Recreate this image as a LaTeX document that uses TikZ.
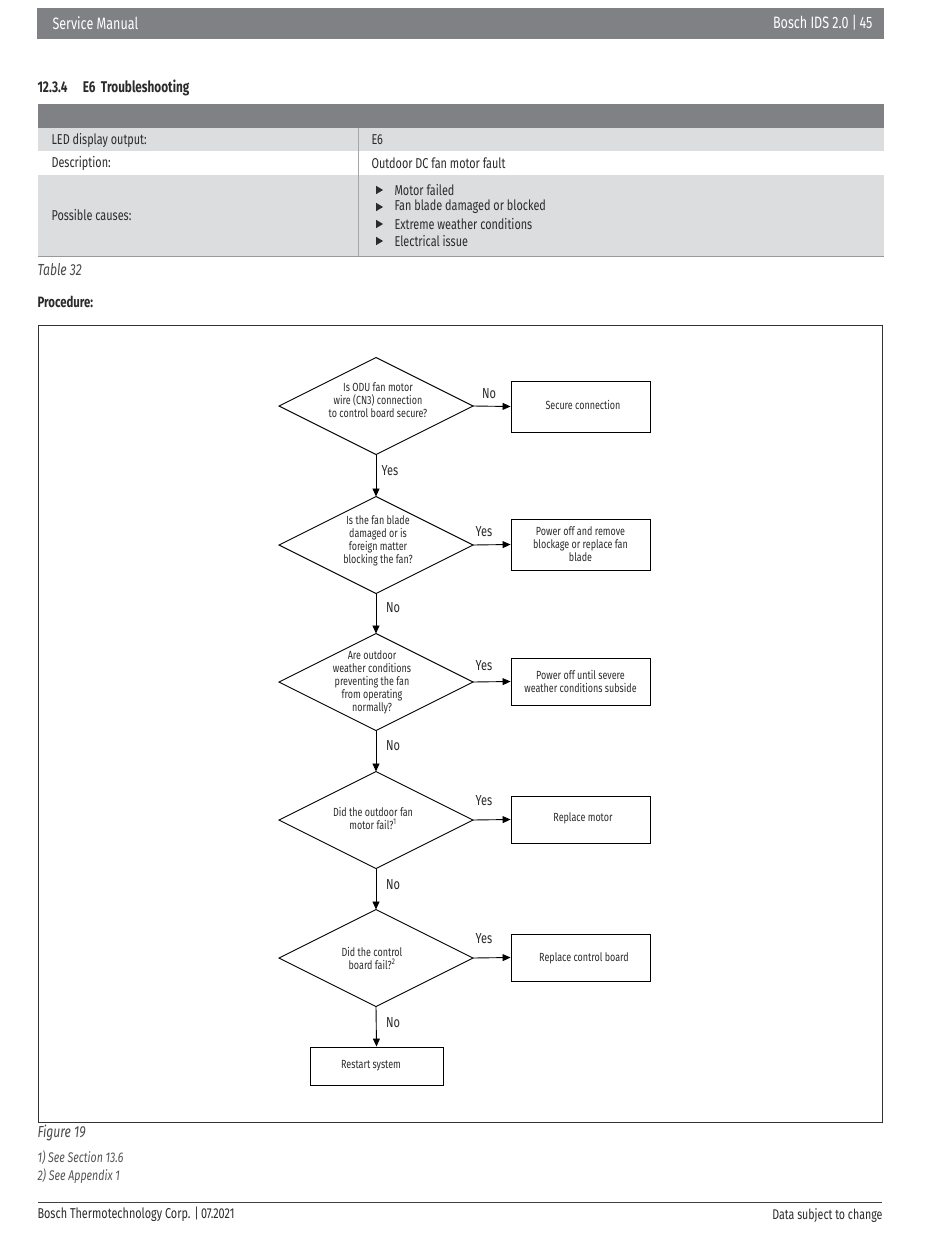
\documentclass[tikz,border=0pt]{standalone}
\usepackage{fontspec}
\setmainfont[FakeStretch=0.76]{Fira Sans}
\usetikzlibrary{arrows.meta}
\definecolor{bargray}{HTML}{808184}
\definecolor{rowgray}{HTML}{DCDDDF}
\definecolor{txt}{HTML}{2B2B2B}
\tikzset{
  fc/.style={font=\fontsize{11.8}{13}\selectfont, text=txt, align=center},
  dia/.style={draw=black, line width=0.9pt, fill=white},
  pbox/.style={draw=black, line width=0.9pt, minimum width=139pt, fc},
  lab/.style={font=\fontsize{14.5}{15}\selectfont, text=txt},
  arr/.style={line width=0.9pt, -{Triangle[length=8pt,width=7pt]}},
  body/.style={font=\fontsize{14.3}{15}\selectfont, text=txt, anchor=west},
  ital/.style={anchor=west, font=\itshape\fontsize{16}{17}\selectfont, text=txt!85},
  foot/.style={anchor=west, font=\itshape\fontsize{14}{15}\selectfont, text=txt!80},
}
\begin{document}
\begin{tikzpicture}[x=1pt,y=-1pt]
\useasboundingbox[fill=white] (0,0) rectangle (950,1241);
% header
\fill[bargray] (37,8) rectangle (884,39);
\node[anchor=west, text=white, font=\fontsize{16.5}{17}\selectfont] (hl) at (49,23) {Service Manual};
\node[anchor=east, text=white, font=\fontsize{16.5}{17}\selectfont] (hr) at (876,23) {Bosch IDS 2.0 |\,45};
\node[anchor=west, font=\bfseries\fontsize{15.5}{16}\selectfont, text=txt] (title) at (34,88) {12.3.4\quad E6\, Troubleshooting};
% table
\fill[bargray] (38,104) rectangle (884,128);
\fill[rowgray] (38,128) rectangle (884,151);
\fill[rowgray] (38,175) rectangle (884,256);
\draw[gray!70, line width=0.8pt] (358,128) -- (358,256);
\draw[gray!80, line width=1pt] (38,256) -- (884,256);
\node[body] (r1a) at (48,140) {LED display output:};
\node[body] (r1b) at (368,140) {E6};
\node[body] (r2a) at (48,163) {Description:};
\node[body] (r2b) at (368,163) {Outdoor DC fan motor fault};
\node[body] (r3a) at (48,215) {Possible causes:};
\foreach \yy/\tt/\nm in {190/Motor failed/c1, 207/Fan blade damaged or blocked/c2, 224/Extreme weather conditions/c3, 241/Electrical issue/c4}{
  \fill[txt] (376,\yy-4.2) -- (383,\yy) -- (376,\yy+4.2) -- cycle;
  \node[body] (\nm) at (391,\yy) {\tt};
}
\node[ital] (tab) at (34,270) {Table 32};
\node[anchor=west, font=\bfseries\fontsize{15}{16}\selectfont, text=txt] (proc) at (34,302) {Procedure:};
% figure frame
\draw[line width=0.8pt, black!80] (38,325) rectangle (882,1122);
% diamonds
\foreach \cy/\nm in {406/d1, 545/d2, 682/d3, 820/d4, 958/d5}{
  \draw[dia] (279,\cy) -- (376,\cy-48.5) -- (473,\cy) -- (376,\cy+48.5) -- cycle;
  \coordinate (\nm n) at (376,\cy-48.5);
  \coordinate (\nm s) at (376,\cy+48.5);
  \coordinate (\nm e) at (473,\cy);
}
\node[fc] (t1) at (378,400) {Is ODU fan motor\\wire (CN3) connection\\to control board secure?};
\node[fc] (t2) at (378,541) {Is the fan blade\\damaged or is\\foreign matter\\blocking the fan?};
\node[fc] (t3) at (372,682) {Are outdoor\\weather conditions\\preventing the fan\\from operating\\normally?};
\node[fc] (t4) at (373,818) {Did the outdoor fan\\motor fail?\textsuperscript{1}};
\node[fc] (t5) at (372,958) {Did the control\\board fail?\textsuperscript{2}};
% boxes
\node[pbox, minimum height=51pt] (b1) at (580.5,406.5) {};
\node[fc] (b1t) at (583,405) {Secure connection};
\node[pbox, minimum height=51pt] (b2) at (580.5,544.5) {Power off and remove\\blockage or replace fan\\blade};
\node[pbox, minimum height=47pt] (b3) at (580.5,681.5) {Power off until severe\\weather conditions subside};
\node[pbox, minimum height=47pt] (b4) at (580.5,819.5) {};
\node[fc] (b4t) at (583,818) {Replace motor};
\node[pbox, minimum height=47pt] (b5) at (580.5,957.5) {};
\node[fc] (b5t) at (584,958) {Replace control board};
\node[draw=black, line width=0.9pt, minimum width=133pt, minimum height=38pt] (b6) at (376.5,1066) {};
\node[fc] (b6t) at (371,1066) {Restart system};
% connectors
\draw[arr] (d1e) -- (b1.west);
\draw[arr] (d2e) -- (b2.west);
\draw[arr] (d3e) -- (b3.west);
\draw[arr] (d4e) -- (b4.west);
\draw[arr] (d5e) -- (b5.west);
\draw[arr] (d1s) -- (d2n);
\draw[arr] (d2s) -- (d3n);
\draw[arr] (d3s) -- (d4n);
\draw[arr] (d4s) -- (d5n);
\draw[arr] (d5s) -- (b6.north);
% labels
\node[lab] (l1) at (489,394) {No};
\node[lab] (l2) at (390,471) {Yes};
\node[lab] (l3) at (484,532) {Yes};
\node[lab] (l4) at (393,608) {No};
\node[lab] (l5) at (484,666) {Yes};
\node[lab] (l6) at (393,746) {No};
\node[lab] (l7) at (484,801) {Yes};
\node[lab] (l8) at (393,885) {No};
\node[lab] (l9) at (484,939) {Yes};
\node[lab] (l10) at (393,1023) {No};
% captions
\node[ital] (fig) at (34,1133) {Figure 19};
\node[foot] (fn1) at (34,1158) {1) See Section 13.6};
\node[foot] (fn2) at (34,1176) {2) See Appendix 1};
% footer
\draw[line width=0.9pt, black!75] (38,1202) -- (882,1202);
\node[anchor=west, font=\fontsize{14.3}{15}\selectfont, text=txt] (f1) at (34,1214) {Bosch Thermotechnology Corp. |\,07.2021};
\node[anchor=east, font=\fontsize{14}{15}\selectfont, text=txt] (f2) at (886,1216) {Data subject to change};
\end{tikzpicture}
\end{document}
